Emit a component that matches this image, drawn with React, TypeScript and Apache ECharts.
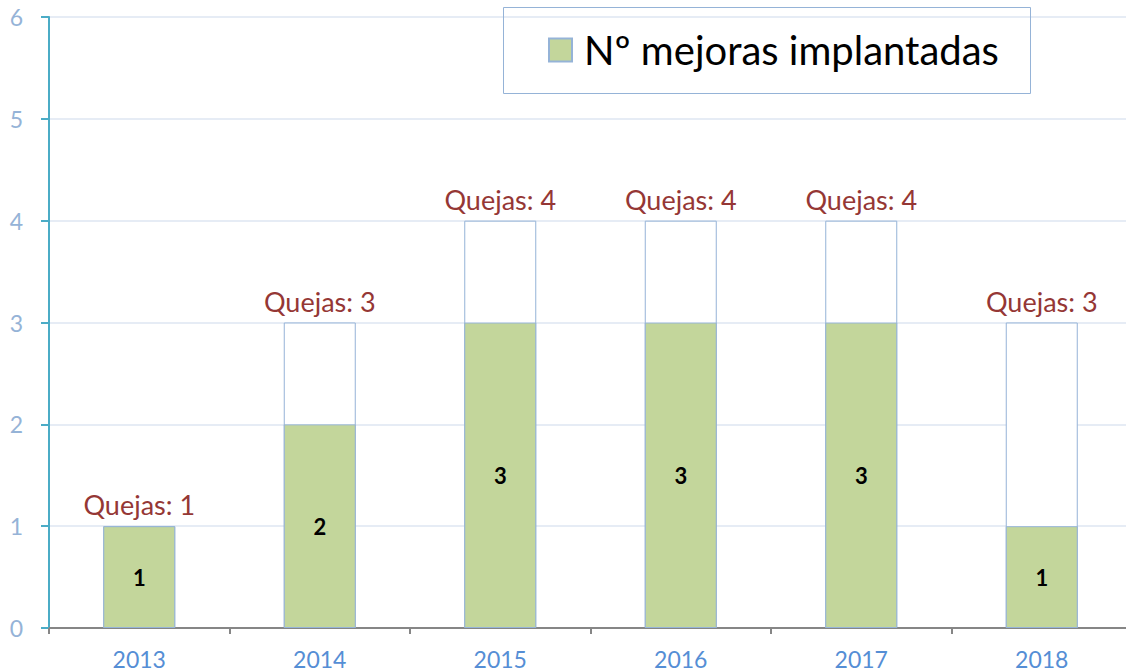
import React, { useEffect, useRef } from "react";
import * as echarts from "echarts";

const years = ["2013", "2014", "2015", "2016", "2017", "2018"];
const quejas = [1, 3, 4, 4, 4, 3];
const mejoras = [1, 2, 3, 3, 3, 1];
const yTicks = [0, 1, 2, 3, 4, 5, 6];

const FONT = "Lato, 'Open Sans', sans-serif";

export default function App() {
  const ref = useRef<HTMLDivElement>(null);
  useEffect(() => {
    if (!ref.current) return;
    const chart = echarts.init(ref.current, null, { renderer: "svg" });
    chart.setOption({
      animation: false,
      textStyle: { fontFamily: FONT },
      grid: { left: 49, width: 1083, top: 17, bottom: 44, containLabel: false, outerBoundsMode: "none" },
      legend: {
        data: [{ name: "Nº mejoras implantadas", icon: "rect" }],
        left: 548,
        top: 30,
        padding: 0,
        itemWidth: 23,
        itemHeight: 23,
        textStyle: { fontSize: 40, color: "#000000", fontFamily: FONT, lineHeight: 40, padding: [0, 0, 0, 7] },
      },
      graphic: [
        {
          type: "rect",
          shape: { x: 503.5, y: 7.5, width: 527, height: 86 },
          style: { fill: "none", stroke: "#95b3d7", lineWidth: 1 },
          z: 1,
        },
      ],
      xAxis: {
        type: "category",
        data: years,
        axisLine: { lineStyle: { color: "#868686", width: 2 } },
        axisTick: { show: true, length: 6, lineStyle: { color: "#868686", width: 2 } },
        axisLabel: { color: "#558ed5", fontSize: 23, margin: 19, fontFamily: FONT },
      },
      yAxis: {
        type: "value",
        min: yTicks[0],
        max: yTicks[yTicks.length - 1],
        interval: 1,
        axisLine: { show: true, lineStyle: { color: "#4bacc6", width: 2 } },
        axisTick: { show: true, length: 8, lineStyle: { color: "#4bacc6", width: 2 } },
        axisLabel: { color: "#95b3d7", fontSize: 23, margin: 26, fontFamily: FONT },
        splitLine: { lineStyle: { color: "#e6ecf5", width: 2 } },
      },
      series: [
        {
          name: "Quejas",
          type: "bar",
          data: quejas,
          barWidth: 72,
          barGap: "-100%",
          itemStyle: { color: "#ffffff", borderColor: "#95b3d7", borderWidth: 1 },
          label: {
            show: true,
            position: "top",
            distance: 8,
            formatter: "Quejas: {c}",
            color: "#953735",
            fontSize: 27,
            fontFamily: FONT,
          },
          z: 2,
        },
        {
          name: "Nº mejoras implantadas",
          type: "bar",
          data: mejoras,
          barWidth: 72,
          barGap: "-100%",
          itemStyle: { color: "#c3d69b", borderColor: "#95b3d7", borderWidth: 1 },
          label: {
            show: true,
            position: "inside",
            color: "#000000",
            fontSize: 22,
            fontWeight: "bold",
            fontFamily: FONT,
          },
          z: 3,
        },
      ],
    });
    return () => chart.dispose();
  }, []);
  return <div ref={ref} style={{ width: 1126, height: 672, position: "absolute", left: 0, top: 0 }} />;
}
